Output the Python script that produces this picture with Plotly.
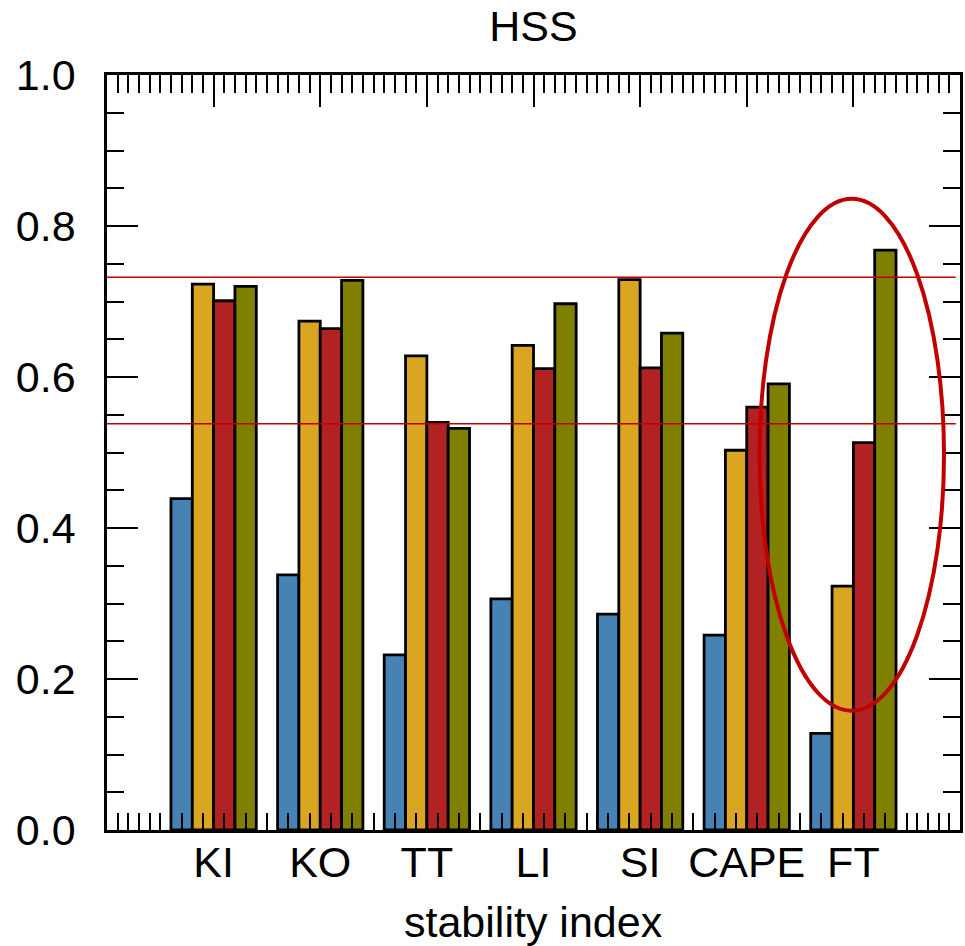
import plotly.graph_objects as go

categories = ["KI", "KO", "TT", "LI", "SI", "CAPE", "FT"]
cat_pos = [1, 2, 3, 4, 5, 6, 7]
series_blue = [0.439, 0.338, 0.232, 0.306, 0.286, 0.258, 0.128]
series_yellow = [0.723, 0.674, 0.628, 0.642, 0.729, 0.503, 0.323]
series_red = [0.701, 0.664, 0.540, 0.611, 0.612, 0.560, 0.513]
series_green = [0.720, 0.728, 0.532, 0.697, 0.658, 0.591, 0.768]
ref_lines = [0.732, 0.538]
ellipse_x = [6.12, 7.85]
ellipse_y = [0.158, 0.836]

colors = ["#4682b4", "#daa520", "#b22222", "#808000"]
FONT = "Liberation Sans, Arial, Helvetica, sans-serif"

fig = go.Figure()
for vals, col in zip([series_blue, series_yellow, series_red, series_green], colors):
    fig.add_trace(go.Bar(x=cat_pos, y=vals, marker=dict(color=col, line=dict(color="black", width=2.8)),
                         showlegend=False))

# invisible helper trace so the top tick axis is drawn
fig.add_trace(go.Scatter(x=[0, 8], y=[0, 0], xaxis="x2", yaxis="y", mode="lines",
                         line=dict(width=0), opacity=0, hoverinfo="skip", showlegend=False))

for v in ref_lines:
    fig.add_shape(type="line", xref="paper", yref="y", x0=0, x1=0.995, y0=v, y1=v,
                  line=dict(color="#c00000", width=1.5), layer="above")

fig.add_shape(type="circle", xref="x", yref="y", x0=ellipse_x[0], x1=ellipse_x[1],
              y0=ellipse_y[0], y1=ellipse_y[1], line=dict(color="#c00000", width=4), layer="above")

fig.update_layout(
    width=965, height=946,
    margin=dict(l=107, r=5, t=75, b=116),
    paper_bgcolor="white", plot_bgcolor="white",
    barmode="group", bargap=0.2, bargroupgap=0,
    font=dict(family=FONT, color="black", size=43),
    title=dict(text="HSS", x=(107 + 960) / 2 / 965, xanchor="center",
               y=1 - 26 / 946, yanchor="middle", yref="container",
               font=dict(family=FONT, size=43, color="black")),
    xaxis=dict(range=[0, 8], tickmode="array", tickvals=cat_pos, ticktext=categories,
               ticks="inside", ticklen=17, tickwidth=2, tickcolor="black",
               minor=dict(dtick=0.1, tick0=0, ticks="inside", ticklen=17, tickwidth=2, tickcolor="black"),
               showline=True, linewidth=2.5, linecolor="black", mirror=True,
               showgrid=False, zeroline=False, ticklabelstandoff=-7, automargin=False,
               tickfont=dict(size=43, family=FONT, color="black")),
    xaxis2=dict(range=[0, 8], overlaying="x", side="top", anchor="y",
                tickmode="linear", tick0=0, dtick=1, ticks="inside", ticklen=32, tickwidth=2,
                tickcolor="black", showticklabels=False, showgrid=False, zeroline=False, showline=False,
                automargin=False,
                minor=dict(dtick=0.1, tick0=0, ticks="inside", ticklen=18, tickwidth=2, tickcolor="black")),
    yaxis=dict(range=[0, 1.0], tickmode="linear", tick0=0, dtick=0.2, tickformat=".1f",
               ticks="inside", ticklen=31, tickwidth=2, tickcolor="black",
               minor=dict(dtick=0.05, tick0=0, ticks="inside", ticklen=17, tickwidth=2, tickcolor="black"),
               showline=True, linewidth=2.5, linecolor="black", mirror="ticks",
               showgrid=False, zeroline=False, ticklabelstandoff=20, automargin=False,
               tickfont=dict(size=43, family=FONT, color="black")),
    annotations=[dict(text="stability index", xref="paper", yref="paper", x=0.5, y=0,
                      yshift=-92, xanchor="center", yanchor="middle", showarrow=False,
                      font=dict(size=43, family=FONT, color="black"))],
)

fig.write_html("out.html", config={"displayModeBar": False},
               post_script="document.body.style.margin='0px';document.body.style.overflow='hidden';")
